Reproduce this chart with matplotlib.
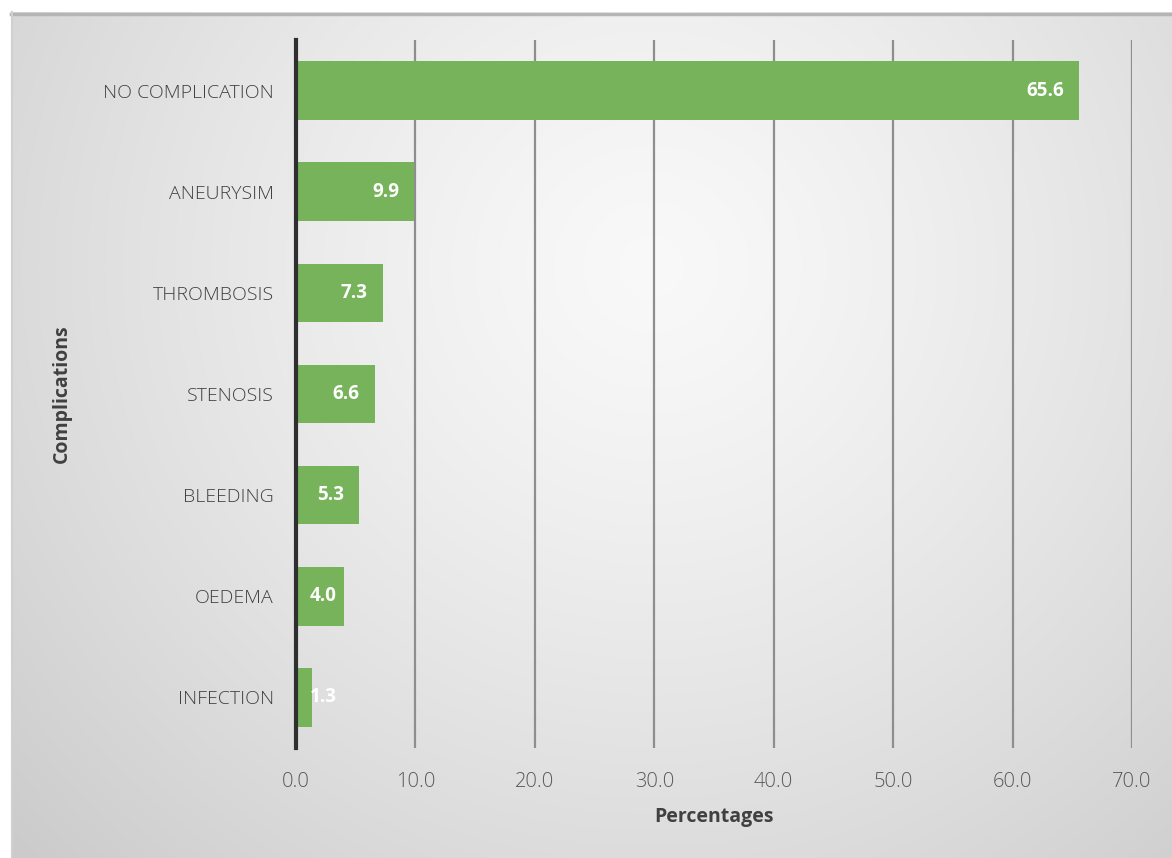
import numpy as np
import matplotlib
matplotlib.use("Agg")
import matplotlib.pyplot as plt

categories = ["INFECTION", "OEDEMA", "BLEEDING", "STENOSIS", "THROMBOSIS", "ANEURYSIM", "NO COMPLICATION"]
values = [1.3, 4.0, 5.3, 6.6, 7.3, 9.9, 65.6]
xticks = [0, 10, 20, 30, 40, 50, 60, 70]
xtick_labels = ["0.0", "10.0", "20.0", "30.0", "40.0", "50.0", "60.0", "70.0"]

W, H = 1172, 858
fig = plt.figure(figsize=(W / 100, H / 100), dpi=100)
fig.patch.set_facecolor("white")

# background panel with radial gradient
bx0, by_top = 11 / W, 12 / H
bg = fig.add_axes([bx0, 0, 1 - bx0, 1 - by_top], zorder=0)
ny, nx = 300, 400
yy, xx = np.mgrid[0:ny, 0:nx]
cx, cy = 0.55 * nx, 0.30 * ny
r = np.sqrt(((xx - cx) / nx) ** 2 + ((yy - cy) / ny * 0.75) ** 2)
r = r / r.max()
val = 0.975 - 0.18 * r ** 1.3
img = np.dstack([val, val, val])
bg.imshow(img, aspect="auto", extent=[0, 1, 1, 0], interpolation="bilinear")
bg.set_xlim(0, 1)
bg.set_ylim(1, 0)
bg.axis("off")
bg.plot([0, 1], [0.002, 0.002], color="#b5b5b5", lw=2.5, clip_on=False)
bg.plot([0.001, 0.001], [0, 1], color="#d0d0d0", lw=1.5, clip_on=False)

ax = fig.add_axes([296 / W, 1 - 748 / H, (1132 - 296) / W, (748 - 40) / H], zorder=1)
ax.patch.set_alpha(0)

font = "Open Sans"
y = np.arange(len(categories))
bars = ax.barh(y, values, height=0.58, color="#77b35a", zorder=3)
ax.set_xlim(0, 70)
ax.set_ylim(-0.5, len(categories) - 0.5)

ax.set_xticks(xticks)
ax.set_xticklabels(xtick_labels, fontname=font, fontsize=14.5, color="#595959", fontweight="light")
ax.set_yticks(y)
ax.set_yticklabels(categories, fontname=font, fontsize=14, color="#404040", fontweight="light")
ax.tick_params(axis="x", length=0, pad=17)
ax.tick_params(axis="y", length=0, pad=16)

ax.grid(axis="x", color="#8e8e8e", lw=1.6, zorder=1)
ax.grid(axis="y", visible=False)
for s in ["top", "right", "bottom"]:
    ax.spines[s].set_visible(False)
ax.spines["left"].set_color("#2f2f2f")
ax.spines["left"].set_linewidth(3)
ax.spines["left"].set_zorder(4)

for yi, v in zip(y, values):
    label = f"{v:.1f}"
    if v < 4.5:
        ax.annotate(label, xy=(0, yi), xytext=(10, 0), textcoords="offset points",
                    ha="left", va="center", color="white", fontsize=13.5,
                    fontweight="bold", fontname=font, zorder=5)
    else:
        ax.annotate(label, xy=(v, yi), xytext=(-11, 0), textcoords="offset points",
                    ha="right", va="center", color="white", fontsize=13.5,
                    fontweight="bold", fontname=font, zorder=5)

ax.set_xlabel("Percentages", fontname=font, fontsize=14, fontweight="bold", color="#404040")
ax.set_ylabel("Complications", fontname=font, fontsize=14, fontweight="bold", color="#404040")
ax.yaxis.set_label_coords(-(296 - 72) / (1132 - 296), 0.5)
ax.xaxis.set_label_coords(0.5, -(807 - 748) / (748 - 40))

fig.savefig("out.png", dpi=100, facecolor="white")
